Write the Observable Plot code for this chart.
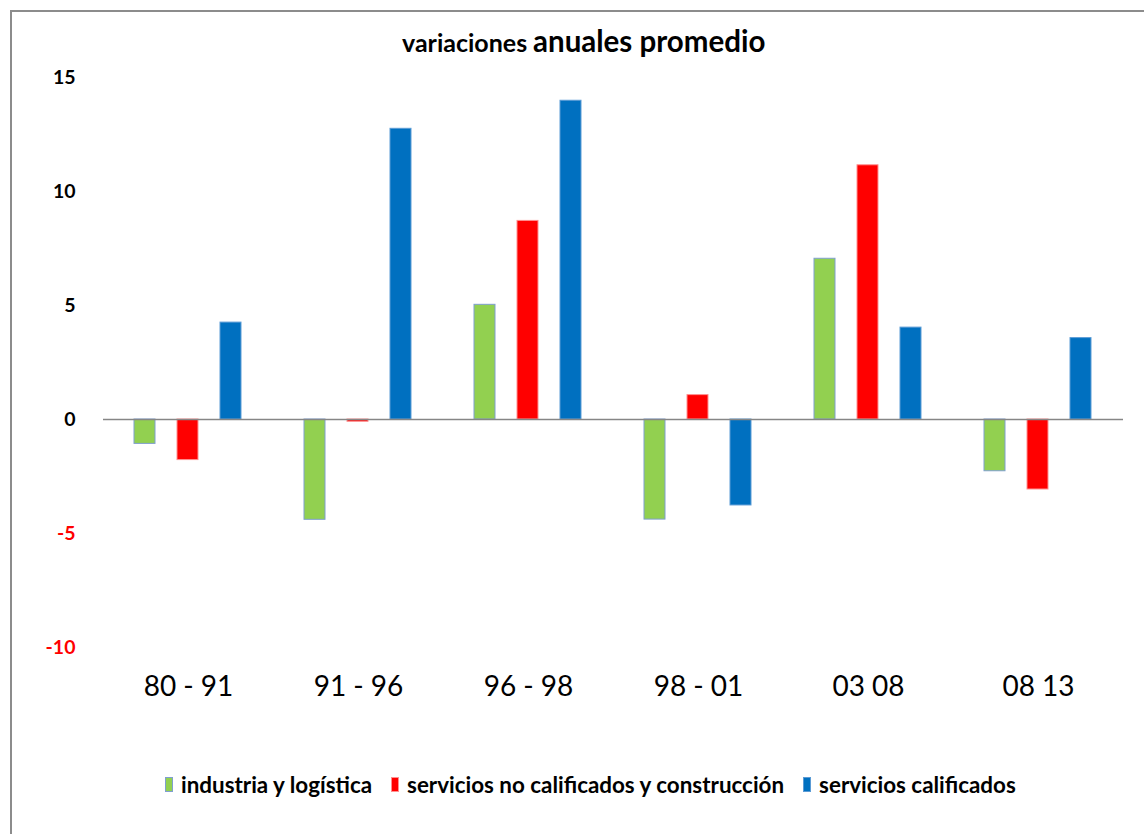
<!DOCTYPE html>
<html>
<head>
<meta charset="utf-8">
<script src="https://cdn.jsdelivr.net/npm/d3@7"></script>
<script src="https://cdn.jsdelivr.net/npm/@observablehq/plot@0.6"></script>
<style>
  html, body { margin: 0; padding: 0; background: #fff; width: 1144px; height: 834px; overflow: hidden; }
  body { position: relative; font-family: Lato, "Open Sans", sans-serif; }
  #frame { position: absolute; left: 10px; top: 10px; width: 1200px; height: 900px; border-left: 2px solid #8c8c8c; border-top: 2px solid #8c8c8c; box-sizing: border-box; }
  #title { position: absolute; left: 402px; top: 23px; white-space: nowrap; font-weight: bold; color: #000; }
  #title .small { font-size: 25px; }
  #title .big { font-size: 29.5px; margin-left: 2px; }
  #chart { position: absolute; left: 0; top: 62px; }
  #legend { position: absolute; left: 165px; top: 771px; display: flex; align-items: center; font-weight: bold; font-size: 22.4px; color: #000; white-space: nowrap; }
  #legend .item { display: flex; align-items: center; margin-right: 19px; }
  #legend .sw { width: 8px; height: 15px; margin-right: 8px; box-sizing: border-box; }
</style>
</head>
<body>
<div id="frame"></div>
<div id="title"><span class="small">variaciones</span> <span class="big">anuales promedio</span></div>
<div id="chart"></div>
<div id="legend"></div>
<script>
// ---- data ----
const periods = ["80 - 91", "91 - 96", "96 - 98", "98 - 01", "03 08", "08 13"];
const seriesNames = ["industria y logística", "servicios no calificados y construcción", "servicios calificados"];
const industria = [-1.07, -4.4, 5.03, -4.39, 7.05, -2.27];
const serviciosNoCalificados = [-1.78, -0.1, 8.71, 1.07, 11.15, -3.07];
const serviciosCalificados = [4.25, 12.75, 13.98, -3.77, 4.03, 3.57];
const yTicks = [-10, -5, 0, 5, 10, 15];
const seriesColors = ["#92D050", "#FF0000", "#0070C0"];
const seriesStrokes = ["#7F9FCF", "#FF9090", "#5B9BD5"];

const seriesValues = [industria, serviciosNoCalificados, serviciosCalificados];
const data = [];
periods.forEach((p, i) => {
  seriesNames.forEach((s, j) => {
    data.push({period: p, series: s, value: seriesValues[j][i], color: seriesColors[j], stroke: seriesStrokes[j]});
  });
});

const chart = Plot.plot({
  width: 1144,
  height: 655,
  marginLeft: 101,
  marginRight: 20,
  marginTop: 15,
  marginBottom: 70,
  style: {background: "transparent", fontFamily: "Lato, 'Open Sans', sans-serif"},
  fx: {domain: periods, padding: 0, label: null},
  x: {domain: seriesNames, paddingInner: 0.506, paddingOuter: 0.713, axis: null},
  y: {domain: [-10, 15], label: null},
  color: {type: "identity"},
  marks: [
    Plot.barY(data, {fx: "period", x: "series", y: "value", fill: "color", stroke: "stroke", strokeWidth: 1}),
    Plot.ruleY([0], {stroke: "#868686", strokeWidth: 1.5}),
    Plot.axisY({ticks: yTicks, tickSize: 0, tickPadding: 28, fontSize: 19.5, fontWeight: "bold",
      fill: d => d < 0 ? "#FF0000" : "#000000", tickFormat: d => String(d), label: null}),
    Plot.axisFx({anchor: "bottom", tickSize: 0, tickPadding: 29, fontSize: 28, fill: "#000", label: null})
  ]
});
document.getElementById("chart").appendChild(chart);

const legend = document.getElementById("legend");
seriesNames.forEach((s, j) => {
  const item = document.createElement("div");
  item.className = "item";
  const sw = document.createElement("span");
  sw.className = "sw";
  sw.style.background = seriesColors[j];
  sw.style.border = "1px solid " + seriesStrokes[j];
  const t = document.createElement("span");
  t.textContent = s;
  item.appendChild(sw);
  item.appendChild(t);
  legend.appendChild(item);
});
</script>
</body>
</html>
